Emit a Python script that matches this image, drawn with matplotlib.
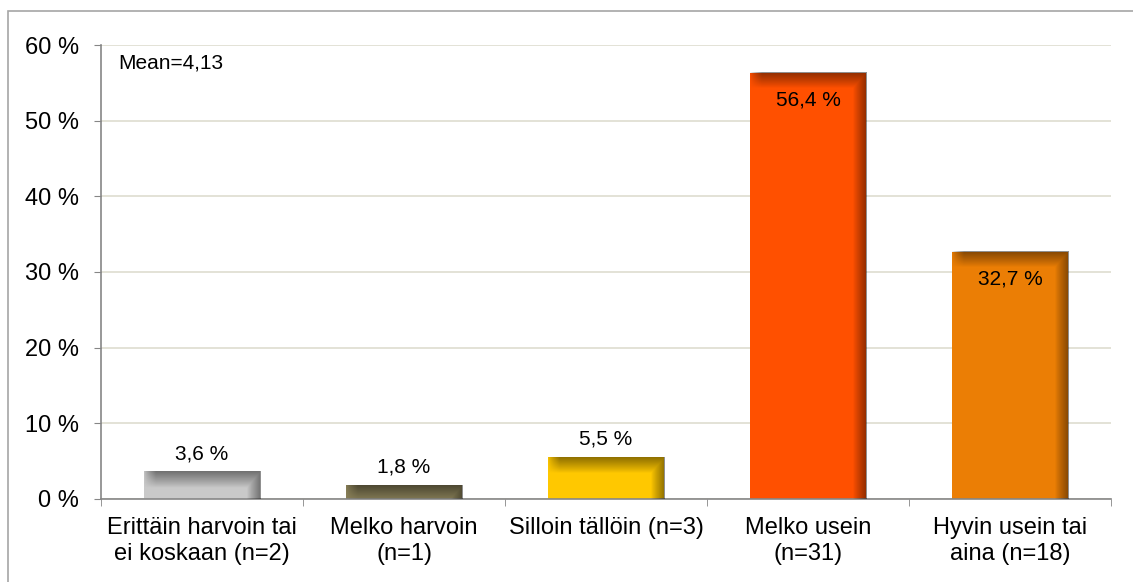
import matplotlib
matplotlib.use("Agg")
import matplotlib.pyplot as plt
import numpy as np
from matplotlib.patches import Rectangle

plt.rcParams['font.family'] = ['Liberation Sans', 'DejaVu Sans']

categories = ["Erittäin harvoin tai\nei koskaan (n=2)", "Melko harvoin\n(n=1)",
              "Silloin tällöin (n=3)", "Melko usein\n(n=31)", "Hyvin usein tai\naina (n=18)"]
values = [3.6, 1.8, 5.5, 56.4, 32.7]
bar_colors = ["#c9c9c9", "#8a8159", "#ffc800", "#ff5000", "#eb7e05"]
mean_text = "Mean=4,13"

fig = plt.figure(figsize=(11.33, 5.82), dpi=100)
ax = fig.add_axes([101 / 1133, 83.3 / 582, 1010 / 1133, 453.4 / 582])

# outer frame of the chart area
fig.patches.append(Rectangle((8 / 1133, -0.1), 1.2, 1 - 11 / 582 + 0.1, transform=fig.transFigure,
                             fill=False, edgecolor="#a6a6a6", linewidth=1.2))

x = np.arange(len(values))
bars = ax.bar(x, values, width=0.575, color=bar_colors, zorder=2)

ax.set_xlim(-0.5, len(values) - 0.5)
ax.set_ylim(0, 60)
ax.set_yticks(range(0, 61, 10))
ax.set_yticklabels([f"{v} %" for v in range(0, 61, 10)])
ax.set_xticks(x)
ax.set_xticklabels(categories, linespacing=1.25)
ax.set_xticks(np.arange(-0.5, len(values), 1.0), minor=True)

ax.tick_params(axis="x", which="major", length=0, pad=13, labelsize=17)
ax.tick_params(axis="x", which="minor", length=5, color="#868686", direction="out")
ax.tick_params(axis="y", length=5, color="#868686", pad=11, labelsize=17)
ax.grid(axis="y", color="#deddcf", linewidth=1.2, zorder=0)
ax.set_axisbelow(True)
for side in ("top", "right"):
    ax.spines[side].set_visible(False)
for side in ("left", "bottom"):
    ax.spines[side].set_color("#868686")
    ax.spines[side].set_linewidth(1.2)

fig.canvas.draw()

# inner shadow along top and right edges of each bar
for b in bars:
    x0, y0 = b.get_x(), b.get_y()
    x1, y1 = x0 + b.get_width(), y0 + b.get_height()
    p0 = ax.transData.transform((x0, y0))
    p1 = ax.transData.transform((x1, y1))
    w_px = max(int(round(p1[0] - p0[0])), 1)
    h_px = max(int(round(p1[1] - p0[1])), 1)
    xx = np.arange(w_px)[None, :] + 0.5
    yy = np.arange(h_px)[:, None] + 0.5
    d_top = yy
    d_right = w_px - xx
    d_left = xx
    f_top = np.clip(1 - d_top / 16, 0, 1) ** 0.9 * np.clip(d_left / 12, 0, 1) ** 0.7
    f_right = np.clip(1 - d_right / 14, 0, 1) ** 0.9
    alpha = np.maximum(f_top, f_right) * 0.45
    img = np.zeros((h_px, w_px, 4))
    img[..., 3] = alpha
    ax.imshow(img, extent=(x0, x1, y0, y1), origin="upper", aspect="auto",
              interpolation="bilinear", zorder=3)

ax.set_xlim(-0.5, len(values) - 0.5)
ax.set_ylim(0, 60)

for b, v in zip(bars, values):
    label = f"{v:.1f} %".replace(".", ",")
    cx = b.get_x() + b.get_width() / 2
    if v > 20:
        ax.annotate(label, (cx, v), xytext=(0, -13), textcoords="offset points",
                    ha="center", va="top", fontsize=15, zorder=4)
    else:
        ax.annotate(label, (cx, v), xytext=(0, 6), textcoords="offset points",
                    ha="center", va="bottom", fontsize=15, zorder=4)

ax.text(0.017, 0.983, mean_text, transform=ax.transAxes, ha="left", va="top", fontsize=15)

fig.savefig("out.png", dpi=100)
